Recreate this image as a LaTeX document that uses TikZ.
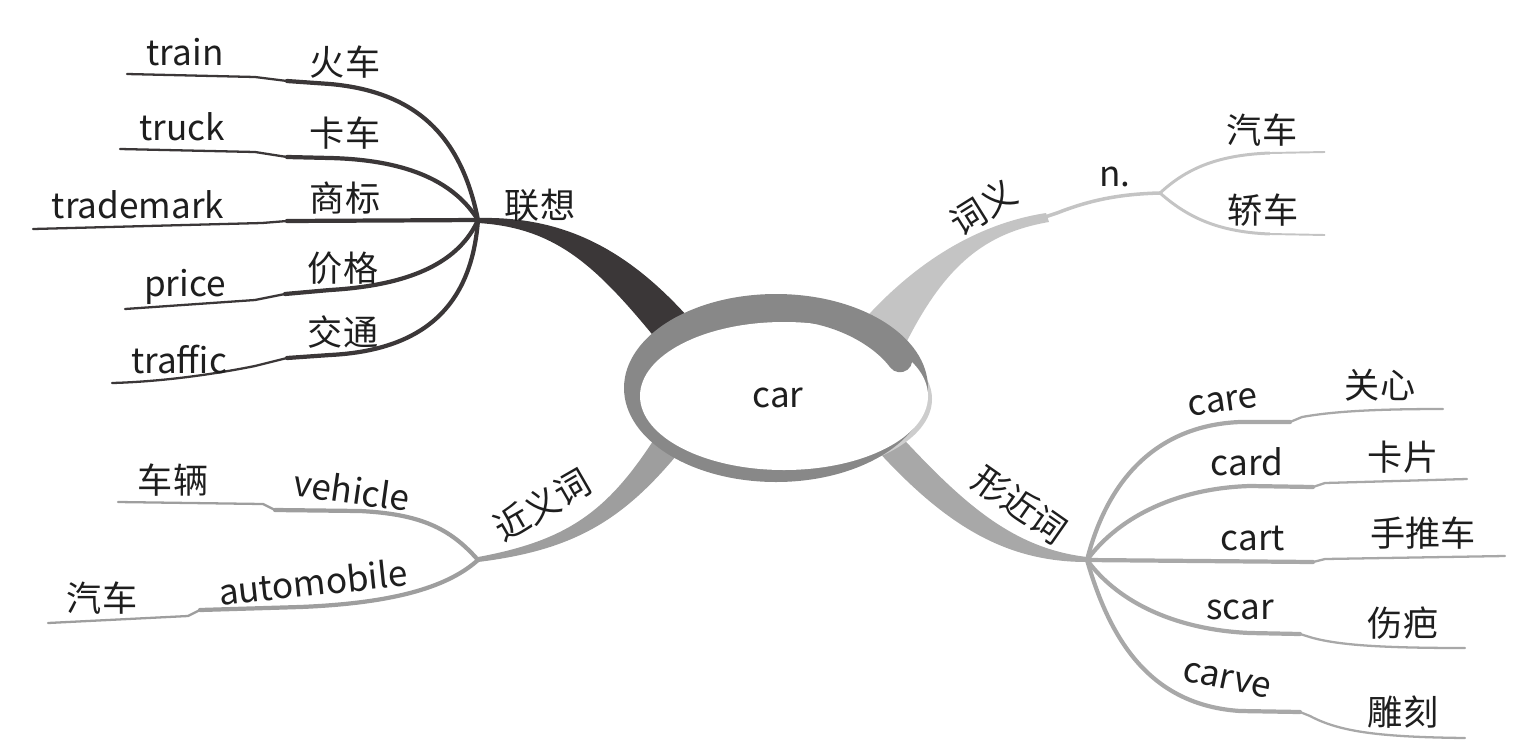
\documentclass[tikz,border=0pt]{standalone}
\usepackage{fontspec}
\setmainfont{Noto Sans CJK SC}
\definecolor{darkbr}{RGB}{59,55,56}
\definecolor{lightbr}{RGB}{196,196,196}
\definecolor{midbr}{RGB}{168,168,168}
\definecolor{synbr}{RGB}{158,158,158}
\definecolor{ringc}{RGB}{136,136,136}
\definecolor{shadowc}{RGB}{205,205,205}
\definecolor{txt}{RGB}{30,30,30}
\begin{document}
\begin{tikzpicture}[x=0.02cm,y=-0.02cm,
  lbl/.style={font=\fontsize{20}{24}\selectfont, text=txt, inner sep=0pt},
  thk/.style={line width=2.4pt, line cap=round, line join=round},
  thn/.style={line width=1.3pt, line cap=round, line join=round}]
\useasboundingbox (0,0) rectangle (1517,754);

% hubs
\coordinate (h1) at (478,220);
\coordinate (h2) at (1160,193);
\coordinate (h3) at (478,560);
\coordinate (h4) at (1087,560);

% ---- main tapered branches ----
\fill[darkbr] (478,218) .. controls (565,216) and (630,250) .. (695,325)
  -- (665,350) .. controls (600,270) and (560,228) .. (478,223) -- cycle;
\fill[lightbr] (855,330) .. controls (910,265) and (975,224) .. (1046,213)
  -- (1049,222) .. controls (985,233) and (945,265) .. (905,345) -- cycle;
\draw[lightbr, line width=2pt, line join=round] (1045,217) -- (1057,213) .. controls (1090,200) and (1120,194) .. (h2);
\fill[midbr] (895,430) .. controls (960,500) and (1010,548) .. (1087,557)
  -- (1087,562) .. controls (1005,562) and (945,525) .. (875,448) -- cycle;
\fill[synbr] (660,430) .. controls (610,510) and (570,540) .. (478,557)
  -- (478,562) .. controls (575,550) and (625,520) .. (685,445) -- cycle;

% ---- central ellipse ----
\fill[shadowc] (787,399) ellipse [x radius=145, y radius=75];
\fill[ringc] (776,388) ellipse [x radius=152, y radius=94];
\fill[white] (784,396) ellipse [x radius=144, y radius=74];
\draw[ringc, line width=14pt, line cap=round] (785,308) .. controls (835,309) and (880,333) .. (900,360);
\node[lbl] (c) at (778,398) {car};

% ---- 联想 sub-branches ----
\coordinate (e11) at (127,74);
\coordinate (e12) at (120,149);
\coordinate (e13) at (33,229);
\coordinate (e14) at (125,309);
\coordinate (e15) at (112,383);
\draw[darkbr, thk] (h1) .. controls (462,140) and (420,92) .. (330,84) -- (287,81);
\draw[darkbr, thn] (287,81) -- (255,77) -- (e11);
\draw[darkbr, thk] (h1) .. controls (455,183) and (410,160) .. (330,158) -- (287,157);
\draw[darkbr, thn] (287,157) -- (255,152) -- (e12);
\draw[darkbr, thk] (h1) -- (287,221);
\draw[darkbr, thn] (287,221) -- (262,223) -- (e13);
\draw[darkbr, thk] (h1) .. controls (460,260) and (415,285) .. (330,290) -- (285,294);
\draw[darkbr, thn] (285,294) -- (255,300) -- (e14);
\draw[darkbr, thk] (h1) .. controls (472,300) and (430,350) .. (330,355) -- (287,358);
\draw[darkbr, thn] (287,358) -- (255,366) .. controls (200,377) and (150,382) .. (e15);

% ---- 词义 sub-branches ----
\coordinate (e21) at (1325,152);
\coordinate (e22) at (1325,235);
\draw[lightbr, line width=1.7pt] (h2) .. controls (1185,170) and (1215,155) .. (1270,153);
\draw[lightbr, line width=1.1pt] (1270,153) -- (e21);
\draw[lightbr, line width=1.7pt] (h2) .. controls (1185,215) and (1215,232) .. (1270,234);
\draw[lightbr, line width=1.1pt] (1270,234) -- (e22);

% ---- 近义词 sub-branches ----
\coordinate (e31) at (118,502);
\coordinate (e32) at (48,623);
\draw[synbr, thk] (h3) .. controls (450,528) and (420,514) .. (360,511) -- (275,510);
\draw[synbr, thn] (275,510) -- (263,504) -- (e31);
\draw[synbr, thk] (h3) .. controls (450,585) and (400,603) .. (300,607) -- (200,610);
\draw[synbr, thn] (200,610) -- (188,616) -- (e32);

% ---- 形近词 sub-branches ----
\coordinate (e41) at (1443,409);
\coordinate (e42) at (1467,479);
\coordinate (e43) at (1505,556);
\coordinate (e44) at (1465,648);
\coordinate (e45) at (1465,738);
\draw[midbr, thk] (h4) .. controls (1110,470) and (1165,425) .. (1240,422) -- (1290,422);
\draw[midbr, thn] (1290,422) -- (1302,417) .. controls (1335,411) and (1380,409) .. (e41);
\draw[midbr, thk] (h4) .. controls (1120,515) and (1180,488) .. (1250,486) -- (1313,487);
\draw[midbr, thn] (1313,487) -- (1325,483) -- (e42);
\draw[midbr, thk] (h4) -- (1313,562);
\draw[midbr, thn] (1313,562) -- (1325,559) -- (e43);
\draw[midbr, thk] (h4) .. controls (1120,605) and (1180,630) .. (1250,633) -- (1300,634);
\draw[midbr, thn] (1300,634) -- (1313,638) .. controls (1340,645) and (1380,648) .. (e44);
\draw[midbr, thk] (h4) .. controls (1110,640) and (1150,705) .. (1240,711) -- (1300,712);
\draw[midbr, thn] (1300,712) -- (1310,716) .. controls (1340,732) and (1380,737) .. (e45);

% ---- labels ----
\node[lbl] (l1) at (540,205) {联想};
\node[lbl] (t11) at (185,52) {train};
\node[lbl] (c11) at (345,62) {火车};
\node[lbl] (t12) at (182,127) {truck};
\node[lbl] (c12) at (345,133) {卡车};
\node[lbl] (t13) at (138,205) {trademark};
\node[lbl] (c13) at (345,198) {商标};
\node[lbl] (t14) at (185,287) {price};
\node[lbl] (c14) at (343,268) {价格};
\node[lbl] (t15) at (179,360) {traffic};
\node[lbl] (c15) at (343,332) {交通};

\node[lbl, rotate=32] (l2) at (983,207) {词义};
\node[lbl] (n) at (1115,177) {n.};
\node[lbl] (c21) at (1262,130) {汽车};
\node[lbl] (c22) at (1263,210) {轿车};

\node[lbl, rotate=30] (l3) at (542,505) {近义词};
\node[lbl] (c31) at (173,480) {车辆};
\node[lbl, rotate=-8] (t31) at (352,490) {vehicle};
\node[lbl] (c32) at (102,598) {汽车};
\node[lbl, rotate=6] (t32) at (313,582) {automobile};

\node[lbl, rotate=-35] (l4) at (1020,505) {形近词};
\node[lbl, rotate=8] (t41) at (1223,402) {care};
\node[lbl] (c41) at (1380,385) {关心};
\node[lbl] (t42) at (1247,462) {card};
\node[lbl] (c42) at (1403,457) {卡片};
\node[lbl] (t43) at (1253,538) {cart};
\node[lbl] (c43) at (1423,533) {手推车};
\node[lbl] (t44) at (1240,610) {scar};
\node[lbl] (c44) at (1403,623) {伤疤};
\node[lbl, rotate=-12] (t45) at (1227,680) {carve};
\node[lbl] (c45) at (1403,712) {雕刻};
\end{tikzpicture}
\end{document}
